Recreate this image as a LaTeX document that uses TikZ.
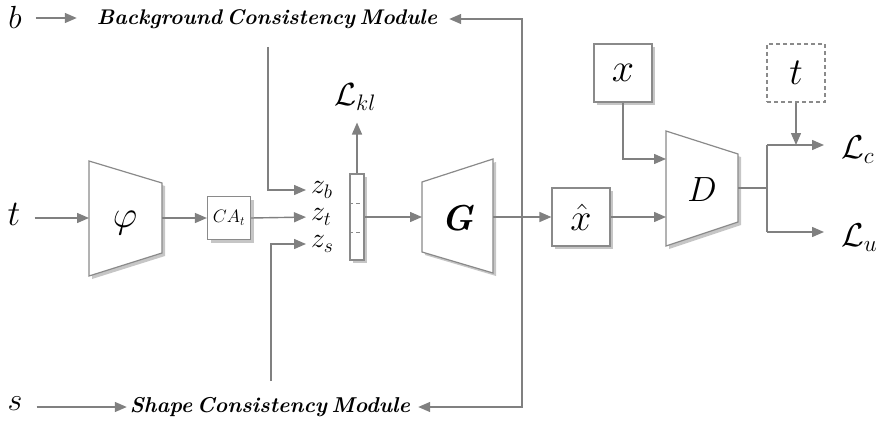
\RequirePackage{fix-cm}
\documentclass[tikz,border=0pt]{standalone}
\usetikzlibrary{arrows.meta,shadows}
\definecolor{lc}{HTML}{808080}
\definecolor{bc}{HTML}{8A8A8A}
\definecolor{sc}{HTML}{C6C6C6}
\newcommand{\fs}[1]{\fontsize{#1}{#1}\selectfont}
\begin{document}
\begin{tikzpicture}[x=1pt,y=-1pt,
  ln/.style={draw=lc,line width=1.4pt},
  arr/.style={ln,-{Triangle[length=12pt,width=10pt]}},
  lbl/.style={inner sep=0pt},
  mod/.style={inner sep=0pt, font=\bfseries\itshape},
  box/.style={draw=bc, line width=1.2pt, fill=white, minimum width=58pt, minimum height=58pt, inner sep=0pt, drop shadow={shadow xshift=3pt,shadow yshift=-3pt,fill=sc,opacity=1}},
  dbox/.style={draw=bc, line width=1.1pt, dashed, dash pattern=on 4pt off 3pt, fill=white, minimum width=58pt, minimum height=58pt, inner sep=0pt},
  trap/.style={draw=bc, line width=1.2pt, fill=white},
  trapsh/.style={fill=sc, shift={(3,3)}}
]
\useasboundingbox (0,0) rectangle (880,425);

% ---- inputs and modules
\node[lbl, font=\fs{32}] (b) at (15,17) {$b$};
\node[mod] (bcm) at (267,19) {\resizebox{340pt}{!}{Background\hspace{-2pt} Consistency\hspace{-2pt} Module}};
\node[lbl, font=\fs{32}] (s) at (15,404) {$s$};
\node[mod] (scm) at (270,407) {\resizebox{280pt}{!}{Shape\hspace{-2pt} Consistency\hspace{-2pt} Module}};
\node[lbl, font=\fs{36}] (t) at (14,214) {$t$};

% ---- phi encoder
\fill[trapsh] (89,161) -- (162,183) -- (162,253) -- (89,276) -- cycle;
\draw[trap] (89,161) -- (162,183) -- (162,253) -- (89,276) -- cycle;
\node[lbl, font=\fs{38}] (phi) at (125,223) {$\varphi$};
\coordinate (phiL) at (89,218);
\coordinate (phiR) at (162,218);

\node[box, minimum width=43pt, minimum height=43pt] (ca) at (229,218) {\fs{18}$CA_t$};

% ---- latent vector
\node[lbl, anchor=west, font=\fs{28}] (zb) at (311,190) {$z_b$};
\node[lbl, anchor=west, font=\fs{28}] (zt) at (311,217) {$z_t$};
\node[lbl, anchor=west, font=\fs{28}] (zs) at (311,244) {$z_s$};
\node[box, minimum width=14pt, minimum height=86pt] (vec) at (357,217) {};
\draw[bc, line width=0.9pt, dashed, dash pattern=on 4pt off 3pt] (vec.west |- 0,203) -- (vec.east |- 0,203);
\draw[bc, line width=0.9pt, dashed, dash pattern=on 4pt off 3pt] (vec.west |- 0,232) -- (vec.east |- 0,232);
\node[lbl, font=\fs{32}] (lkl) at (355,97) {$\mathcal{L}_{kl}$};

% ---- generator
\fill[trapsh] (422,182) -- (493,159) -- (493,273) -- (422,252) -- cycle;
\draw[trap] (422,182) -- (493,159) -- (493,273) -- (422,252) -- cycle;
\node[lbl, font=\fs{36}] (G) at (458,218) {\textbf{\textit{G}}};
\coordinate (GL) at (422,217);
\coordinate (GR) at (493,217);
\coordinate (j) at (522,217);

% ---- discriminator side
\node[box] (xh) at (581,217) {\fs{38}$\hat{x}$};
\node[box] (x) at (623,73) {\fs{40}$x$};
\fill[trapsh] (666,131) -- (738,154) -- (738,222) -- (666,246) -- cycle;
\draw[trap] (666,131) -- (738,154) -- (738,222) -- (666,246) -- cycle;
\node[lbl, font=\fs{35}] (D) at (702,190) {$D$};
\coordinate (DL1) at (666,159);
\coordinate (DL2) at (666,217);
\coordinate (DR) at (738,188);
\coordinate (k) at (767,188);
\coordinate (kc) at (767,145);
\coordinate (ku) at (767,232);
\node[dbox] (tt) at (796,73) {\fs{38}$t$};
\coordinate (tc) at (796,145);
\node[lbl, font=\fs{33}, anchor=west] (lc) at (841,150) {$\mathcal{L}_c$};
\node[lbl, font=\fs{33}, anchor=west] (lu) at (841,238) {$\mathcal{L}_u$};

% ---- connectors
\draw[arr, shorten <=14pt, shorten >=20pt] (b.east |- 0,18) -- (bcm.west |- 0,18);
\draw[arr, shorten <=14pt, shorten >=3pt] (s.east |- 0,407) -- (scm.west |- 0,407);
\draw[arr, shorten <=14pt] (t.east |- phiL) -- (phiL);
\draw[arr] (phiR) -- (ca.west);
\draw[arr, shorten >=5pt] (ca.east) -- (zt.west);
\draw[arr, shorten <=18pt, shorten >=5pt] (bcm.south -| 268,0) |- (zb.west);
\draw[arr, shorten <=16pt, shorten >=5pt] (scm.north -| 271,0) |- (zs.west);
\draw[arr, shorten >=12pt] (vec.north) -- (lkl.south -| vec.north);
\draw[arr] (vec.east) -- (GL);
\draw[arr] (GR) -- (xh.west);
\draw[arr, shorten >=12pt] (j) |- (bcm.east);
\draw[arr, shorten >=8pt] (j) |- (scm.east);
\draw[arr] (xh.east) -- (DL2);
\draw[arr] (x.south) |- (DL1);
\draw[ln] (DR) -- (k);
\draw[ln] (kc) -- (ku);
\draw[arr, shorten >=17pt] (kc) -- (lc.west |- kc);
\draw[arr, shorten >=17pt] (ku) -- (lu.west |- ku);
\draw[arr] (tt.south) -- (tc);
\end{tikzpicture}
\end{document}
